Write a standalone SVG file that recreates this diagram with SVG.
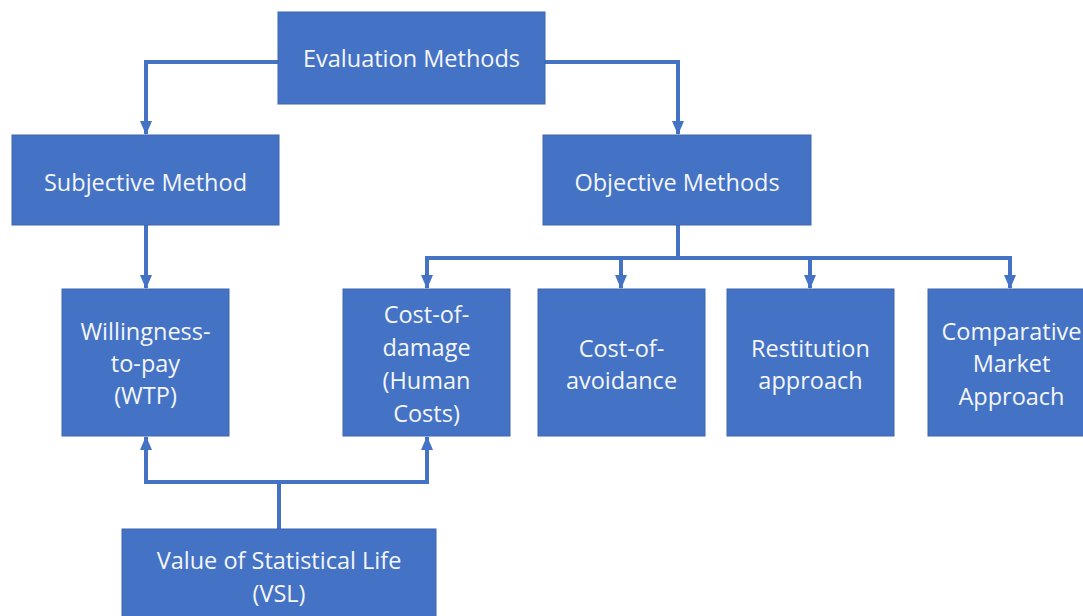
<svg xmlns="http://www.w3.org/2000/svg" width="1083" height="616" viewBox="0 0 1083 616">
<defs>
<style>
.box{fill:#4472C4;stroke:#3F66AE;stroke-width:1}
.t{fill:#F4F6FB;font-family:"Open Sans","Noto Sans",sans-serif;font-size:23.5px;text-anchor:middle;dominant-baseline:central}
.c{fill:none;stroke:#4472C4;stroke-width:4}
</style>
<marker id="ah" markerUnits="userSpaceOnUse" markerWidth="14" markerHeight="14" viewBox="0 0 14 14" refX="13" refY="7" orient="auto">
<path d="M0,1 L14,7 L0,13 Z" fill="#4472C4"/>
</marker>
</defs>
<rect width="1083" height="616" fill="#FFFFFF"/>
<g id="connectors">
<path class="c" d="M278,62 H146 V134" marker-end="url(#ah)"/>
<path class="c" d="M545,62 H678 V134" marker-end="url(#ah)"/>
<path class="c" d="M146,225 V288" marker-end="url(#ah)"/>
<path class="c" d="M678,225 V258"/>
<path class="c" d="M425,258 H1012"/>
<path class="c" d="M427,256 V288" marker-end="url(#ah)"/>
<path class="c" d="M621,256 V288" marker-end="url(#ah)"/>
<path class="c" d="M810,256 V288" marker-end="url(#ah)"/>
<path class="c" d="M1010,256 V288" marker-end="url(#ah)"/>
<path class="c" d="M279,529 V482"/>
<path class="c" d="M144,482 H429"/>
<path class="c" d="M146,484 V437" marker-end="url(#ah)"/>
<path class="c" d="M427,484 V437" marker-end="url(#ah)"/>
</g>
<g id="evaluation-methods">
<rect class="box" x="278" y="12" width="267" height="92"/>
<text class="t" x="411.5" y="58">Evaluation Methods</text>
</g>
<g id="subjective-method">
<rect class="box" x="12" y="135" width="267" height="90"/>
<text class="t" x="145.5" y="182">Subjective Method</text>
</g>
<g id="objective-methods">
<rect class="box" x="543" y="135" width="268" height="90"/>
<text class="t" x="677" y="182">Objective Methods</text>
</g>
<g id="wtp">
<rect class="box" x="62" y="289" width="167" height="147"/>
<text class="t" x="145.5" y="331">Willingness-</text>
<text class="t" x="145.5" y="363">to-pay</text>
<text class="t" x="145.5" y="395">(WTP)</text>
</g>
<g id="cost-of-damage">
<rect class="box" x="343" y="289" width="167" height="147"/>
<text class="t" x="426.5" y="314">Cost-of-</text>
<text class="t" x="426.5" y="347">damage</text>
<text class="t" x="426.5" y="380">(Human</text>
<text class="t" x="426.5" y="413">Costs)</text>
</g>
<g id="cost-of-avoidance">
<rect class="box" x="538" y="289" width="167" height="147"/>
<text class="t" x="621.5" y="348">Cost-of-</text>
<text class="t" x="621.5" y="380">avoidance</text>
</g>
<g id="restitution-approach">
<rect class="box" x="727" y="289" width="167" height="147"/>
<text class="t" x="810.5" y="348">Restitution</text>
<text class="t" x="810.5" y="380">approach</text>
</g>
<g id="comparative-market-approach">
<rect class="box" x="928" y="289" width="167" height="147"/>
<text class="t" x="1011.5" y="331">Comparative</text>
<text class="t" x="1011.5" y="363">Market</text>
<text class="t" x="1011.5" y="396">Approach</text>
</g>
<g id="vsl">
<rect class="box" x="122" y="529" width="314" height="95"/>
<text class="t" x="279" y="560">Value of Statistical Life</text>
<text class="t" x="279" y="593">(VSL)</text>
</g>
</svg>
